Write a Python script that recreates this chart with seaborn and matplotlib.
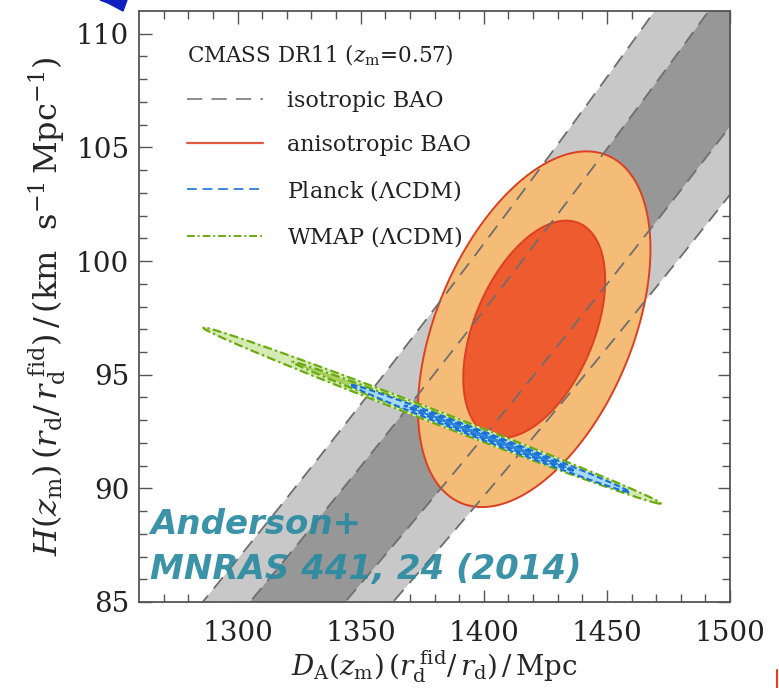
import numpy as np
import pandas as pd
import matplotlib
matplotlib.use("Agg")
import matplotlib.pyplot as plt
import seaborn as sns
from matplotlib.lines import Line2D
from matplotlib.patches import Polygon

# ---------------- data ----------------
z_eff = 0.57
c_kms = 299792.458
DV_mean = 2056.0          # isotropic BAO D_V (Mpc)
DV_sigma = 20.0
band_nsig = [2, 1]

aniso_mean = [1420.5, 97.0]     # D_A, H
aniso_sigma = [19.0, 3.15]
aniso_rho = 0.45

planck_mean = [1402.5, 92.2]
planck_sigma = [22.9, 0.956]
planck_rho = -0.9968

wmap_mean = [1379.0, 93.2]
wmap_sigma = [37.4, 1.56]
wmap_rho = -0.997

chi2_levels = [2.30, 6.17]      # 68% / 95% 2D contours

xlim = [1260, 1500]
ylim = [85, 111]
xticks = [1300, 1350, 1400, 1450, 1500]
yticks = [85, 90, 95, 100, 105, 110]

legend_title = r"CMASS DR11 ($z_{\rm m}$=0.57)"
legend_labels = ["isotropic BAO", "anisotropic BAO", r"Planck ($\Lambda$CDM)", r"WMAP ($\Lambda$CDM)"]
credit_lines = ["Anderson+", "MNRAS 441, 24 (2014)"]

# ---------------- style ----------------
sns.set_theme(style="ticks")
plt.rcParams["font.family"] = ["DejaVu Serif"]
plt.rcParams["mathtext.fontset"] = "dejavuserif"
plt.rcParams["axes.edgecolor"] = "#555555"
plt.rcParams["text.color"] = "#222222"

fig = plt.figure(figsize=(7.79, 6.88), dpi=100)
ax = fig.add_axes([139 / 779, 1 - 602 / 688, (730 - 139) / 779, (602 - 11) / 688])

# isotropic band: H = c z (1+z)^2 D_A^2 / D_V^3
Dgrid = np.linspace(xlim[0], xlim[1], 400)
def H_of(DV):
    return c_kms * z_eff * (1 + z_eff) ** 2 * Dgrid ** 2 / DV ** 3

band_colors = {2: "#c8c8c8", 1: "#979797"}
for n in band_nsig:
    ax.fill_between(Dgrid, H_of(DV_mean - n * DV_sigma), H_of(DV_mean + n * DV_sigma),
                    color=band_colors[n], lw=0, zorder=1)

# gaussian contours
xx = np.linspace(xlim[0], xlim[1], 1400)
yy = np.linspace(ylim[0], ylim[1], 1200)
X, Y = np.meshgrid(xx, yy)
def chi2(mean, sig, rho):
    dx = (X - mean[0]) / sig[0]
    dy = (Y - mean[1]) / sig[1]
    return (dx ** 2 - 2 * rho * dx * dy + dy ** 2) / (1 - rho ** 2)

C_an = chi2(aniso_mean, aniso_sigma, aniso_rho)
ax.contourf(X, Y, C_an, levels=[0, chi2_levels[0], chi2_levels[1]],
            colors=["#ee5b2f", "#f5bc78"], zorder=2)
ax.contour(X, Y, C_an, levels=chi2_levels, colors="#dd3f22", linewidths=1.4, zorder=3)

# dashed band boundaries
rows = []
for n in band_nsig:
    for s in (-1, 1):
        for d, h in zip(Dgrid, H_of(DV_mean + s * n * DV_sigma)):
            rows.append({"D": d, "H": h, "line": f"{s}{n}"})
df_lines = pd.DataFrame(rows)
sns.lineplot(data=df_lines, x="D", y="H", units="line", estimator=None, sort=False,
             color="#6e6e6e", lw=1.3, linestyle=(0, (8, 5)), legend=False, ax=ax, zorder=4)

# WMAP
C_w = chi2(wmap_mean, wmap_sigma, wmap_rho)
ax.contourf(X, Y, C_w, levels=[0, chi2_levels[0], chi2_levels[1]],
            colors=["#a6d15e", "#d6eab3"], zorder=5)
ax.contour(X, Y, C_w, levels=chi2_levels, colors="#6aaa12", linewidths=1.6,
           linestyles=[(0, (4, 1.5, 1, 1.5))], zorder=6)

# Planck
C_p = chi2(planck_mean, planck_sigma, planck_rho)
ax.contourf(X, Y, C_p, levels=[0, chi2_levels[0], chi2_levels[1]],
            colors=["#2f86dc", "#a8daf3"], zorder=7)
ax.contour(X, Y, C_p, levels=chi2_levels, colors="#1a6fd2", linewidths=1.5,
           linestyles=[(0, (3, 1.5))], zorder=8)

ax.set_xlim(xlim)
ax.set_ylim(ylim)
ax.set_xticks(xticks)
ax.set_yticks(yticks)
ax.set_xticks(np.arange(1270, 1500, 10), minor=True)
ax.set_yticks(np.arange(86, 111, 1), minor=True)
ax.tick_params(which="both", direction="in", top=True, right=True, color="#555555",
               labelcolor="#222222")
ax.tick_params(which="major", length=9, width=1.0, labelsize=20)
ax.tick_params(which="minor", length=5.5, width=1.0)
ax.tick_params(axis="x", which="major", pad=13)
ax.tick_params(axis="y", which="major", pad=7)
for sp in ax.spines.values():
    sp.set_linewidth(1.3)
    sp.set_zorder(20)

ax.set_xlabel(r"$D_{\rm A}(z_{\rm m})\,(r_{\rm d}^{\ \rm fid}/\,r_{\rm d})\,/\,{\rm Mpc}$",
              fontsize=20, labelpad=1)
ax.set_ylabel(r"$H(z_{\rm m})\,(r_{\rm d}/\,r_{\rm d}^{\ \rm fid})\,/\,({\rm km\ \ s^{-1}\,Mpc^{-1}})$",
              fontsize=23, labelpad=6)

handles = [
    Line2D([], [], color="#6e6e6e", lw=1.1, linestyle=(0, (10, 6))),
    Line2D([], [], color="#e05a44", lw=1.6),
    Line2D([], [], color="#3a8ad8", lw=1.4, linestyle=(0, (5, 3))),
    Line2D([], [], color="#6aaa12", lw=1.4, linestyle=(0, (4, 1.5, 1, 1.5))),
]
leg = ax.legend(handles, legend_labels, title=legend_title, loc="upper left",
                bbox_to_anchor=(48 / 591, 1 - 32 / 591), frameon=False,
                fontsize=16, title_fontsize=15.5, handlelength=3.4,
                handletextpad=1.1, labelspacing=0.98, borderpad=0, borderaxespad=0,
                alignment="left")
leg.set_zorder(30)
leg.get_title().set_color("#222222")

# credit text
credit_kw = dict(fontfamily="DejaVu Sans", fontweight="bold", fontstyle="italic",
                 color="#2b8aa1", alpha=0.92, fontsize=24.5, va="center", ha="left", zorder=40)
fig.text(150 / 779, 1 - 525 / 688, credit_lines[0], **credit_kw)
fig.text(150 / 779, 1 - 569 / 688, credit_lines[1], **credit_kw)

# slide decorations
fig.patches.append(Polygon([[100 / 779, 1.0], [127 / 779, 1.0], [123 / 779, 1 - 11 / 688],
                            [108 / 779, 1 - 3 / 688]], closed=True, transform=fig.transFigure,
                           color="#1020c0", zorder=50))
fig.add_artist(Line2D([777 / 779, 777 / 779], [0, 18 / 688], transform=fig.transFigure,
                      color="#e04010", lw=1.5))

fig.savefig("out.png", dpi=100)
